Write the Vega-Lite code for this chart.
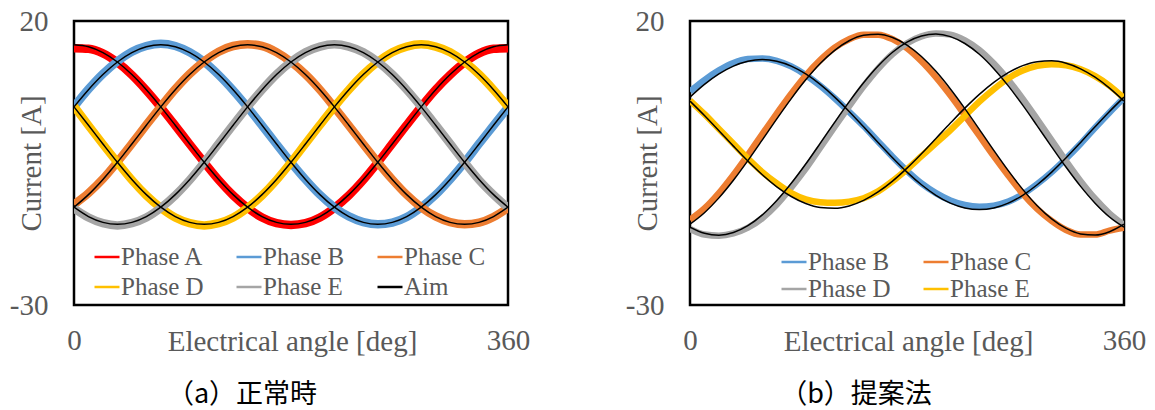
{
"$schema": "https://vega.github.io/schema/vega-lite/v6.json",
"background": "white",
"padding": {"left": 8, "top": 5, "right": 5, "bottom": 0},
"config": {
  "view": {"stroke": "black", "strokeWidth": 2.5},
  "font": "Liberation Serif",
  "axis": {"grid": false, "ticks": false, "domain": false, "labelFont": "Liberation Serif", "labelFontSize": 29, "labelColor": "#595959", "titleFont": "Liberation Serif", "titleFontSize": 29, "titleFontWeight": "normal", "titleColor": "#595959", "labelFlush": false, "labelExpr": "replace(datum.label, '−', '-')"},
  "legend": {"labelFont": "Liberation Serif", "labelFontSize": 25, "labelColor": "#595959", "symbolType": "stroke", "symbolSize": 625, "symbolStrokeWidth": 2.5, "labelOffset": 0, "rowPadding": 5, "title": null}
},
"datasets": {
"a": [
{"p":"Phase A","a":0,"m":15.2,"t":15.8},{"p":"Phase A","a":12,"m":15.1,"t":15.45},{"p":"Phase A","a":24,"m":14.3,"t":14.43},{"p":"Phase A","a":36,"m":12.7,"t":12.78},{"p":"Phase A","a":48,"m":10.5,"t":10.57},{"p":"Phase A","a":60,"m":7.8,"t":7.9},{"p":"Phase A","a":72,"m":4.8,"t":4.88},{"p":"Phase A","a":84,"m":1.6,"t":1.65},{"p":"Phase A","a":96,"m":-1.7,"t":-1.65},{"p":"Phase A","a":108,"m":-4.9,"t":-4.88},{"p":"Phase A","a":120,"m":-8.0,"t":-7.9},{"p":"Phase A","a":132,"m":-10.7,"t":-10.57},{"p":"Phase A","a":144,"m":-12.9,"t":-12.78},{"p":"Phase A","a":156,"m":-14.6,"t":-14.43},{"p":"Phase A","a":168,"m":-15.6,"t":-15.45},{"p":"Phase A","a":180,"m":-15.9,"t":-15.8},{"p":"Phase A","a":192,"m":-15.6,"t":-15.45},{"p":"Phase A","a":204,"m":-14.6,"t":-14.43},{"p":"Phase A","a":216,"m":-12.9,"t":-12.78},{"p":"Phase A","a":228,"m":-10.7,"t":-10.57},{"p":"Phase A","a":240,"m":-8.0,"t":-7.9},{"p":"Phase A","a":252,"m":-4.9,"t":-4.88},{"p":"Phase A","a":264,"m":-1.6,"t":-1.65},{"p":"Phase A","a":276,"m":1.7,"t":1.65},{"p":"Phase A","a":288,"m":4.9,"t":4.88},{"p":"Phase A","a":300,"m":7.9,"t":7.9},{"p":"Phase A","a":312,"m":10.5,"t":10.57},{"p":"Phase A","a":324,"m":12.7,"t":12.78},{"p":"Phase A","a":336,"m":14.3,"t":14.43},{"p":"Phase A","a":348,"m":15.1,"t":15.45},{"p":"Phase A","a":360,"m":15.2,"t":15.8},
{"p":"Phase B","a":0,"m":4.9,"t":4.88},{"p":"Phase B","a":12,"m":8.0,"t":7.9},{"p":"Phase B","a":24,"m":10.7,"t":10.57},{"p":"Phase B","a":36,"m":12.9,"t":12.78},{"p":"Phase B","a":48,"m":14.6,"t":14.43},{"p":"Phase B","a":60,"m":15.6,"t":15.45},{"p":"Phase B","a":72,"m":16.0,"t":15.8},{"p":"Phase B","a":84,"m":15.6,"t":15.45},{"p":"Phase B","a":96,"m":14.5,"t":14.43},{"p":"Phase B","a":108,"m":12.8,"t":12.78},{"p":"Phase B","a":120,"m":10.5,"t":10.57},{"p":"Phase B","a":132,"m":7.8,"t":7.9},{"p":"Phase B","a":144,"m":4.8,"t":4.88},{"p":"Phase B","a":156,"m":1.6,"t":1.65},{"p":"Phase B","a":168,"m":-1.7,"t":-1.65},{"p":"Phase B","a":180,"m":-4.9,"t":-4.88},{"p":"Phase B","a":192,"m":-7.9,"t":-7.9},{"p":"Phase B","a":204,"m":-10.6,"t":-10.57},{"p":"Phase B","a":216,"m":-12.8,"t":-12.78},{"p":"Phase B","a":228,"m":-14.4,"t":-14.43},{"p":"Phase B","a":240,"m":-15.4,"t":-15.45},{"p":"Phase B","a":252,"m":-15.8,"t":-15.8},{"p":"Phase B","a":264,"m":-15.5,"t":-15.45},{"p":"Phase B","a":276,"m":-14.5,"t":-14.43},{"p":"Phase B","a":288,"m":-12.8,"t":-12.78},{"p":"Phase B","a":300,"m":-10.6,"t":-10.57},{"p":"Phase B","a":312,"m":-7.9,"t":-7.9},{"p":"Phase B","a":324,"m":-4.9,"t":-4.88},{"p":"Phase B","a":336,"m":-1.6,"t":-1.65},{"p":"Phase B","a":348,"m":1.6,"t":1.65},{"p":"Phase B","a":360,"m":4.8,"t":4.88},
{"p":"Phase C","a":0,"m":-12.3,"t":-12.78},{"p":"Phase C","a":12,"m":-10.3,"t":-10.57},{"p":"Phase C","a":24,"m":-7.8,"t":-7.9},{"p":"Phase C","a":36,"m":-4.8,"t":-4.88},{"p":"Phase C","a":48,"m":-1.6,"t":-1.65},{"p":"Phase C","a":60,"m":1.7,"t":1.65},{"p":"Phase C","a":72,"m":4.9,"t":4.88},{"p":"Phase C","a":84,"m":8.0,"t":7.9},{"p":"Phase C","a":96,"m":10.7,"t":10.57},{"p":"Phase C","a":108,"m":12.9,"t":12.78},{"p":"Phase C","a":120,"m":14.6,"t":14.43},{"p":"Phase C","a":132,"m":15.6,"t":15.45},{"p":"Phase C","a":144,"m":15.9,"t":15.8},{"p":"Phase C","a":156,"m":15.6,"t":15.45},{"p":"Phase C","a":168,"m":14.5,"t":14.43},{"p":"Phase C","a":180,"m":12.8,"t":12.78},{"p":"Phase C","a":192,"m":10.6,"t":10.57},{"p":"Phase C","a":204,"m":7.9,"t":7.9},{"p":"Phase C","a":216,"m":4.8,"t":4.88},{"p":"Phase C","a":228,"m":1.6,"t":1.65},{"p":"Phase C","a":240,"m":-1.7,"t":-1.65},{"p":"Phase C","a":252,"m":-4.9,"t":-4.88},{"p":"Phase C","a":264,"m":-7.9,"t":-7.9},{"p":"Phase C","a":276,"m":-10.6,"t":-10.57},{"p":"Phase C","a":288,"m":-12.8,"t":-12.78},{"p":"Phase C","a":300,"m":-14.4,"t":-14.43},{"p":"Phase C","a":312,"m":-15.4,"t":-15.45},{"p":"Phase C","a":324,"m":-15.8,"t":-15.8},{"p":"Phase C","a":336,"m":-15.5,"t":-15.45},{"p":"Phase C","a":348,"m":-14.5,"t":-14.43},{"p":"Phase C","a":360,"m":-12.9,"t":-12.78},
{"p":"Phase D","a":0,"m":5.0,"t":4.88},{"p":"Phase D","a":12,"m":1.6,"t":1.65},{"p":"Phase D","a":24,"m":-1.7,"t":-1.65},{"p":"Phase D","a":36,"m":-4.9,"t":-4.88},{"p":"Phase D","a":48,"m":-8.0,"t":-7.9},{"p":"Phase D","a":60,"m":-10.7,"t":-10.57},{"p":"Phase D","a":72,"m":-12.9,"t":-12.78},{"p":"Phase D","a":84,"m":-14.6,"t":-14.43},{"p":"Phase D","a":96,"m":-15.6,"t":-15.45},{"p":"Phase D","a":108,"m":-16.0,"t":-15.8},{"p":"Phase D","a":120,"m":-15.6,"t":-15.45},{"p":"Phase D","a":132,"m":-14.6,"t":-14.43},{"p":"Phase D","a":144,"m":-12.9,"t":-12.78},{"p":"Phase D","a":156,"m":-10.7,"t":-10.57},{"p":"Phase D","a":168,"m":-8.0,"t":-7.9},{"p":"Phase D","a":180,"m":-4.9,"t":-4.88},{"p":"Phase D","a":192,"m":-1.6,"t":-1.65},{"p":"Phase D","a":204,"m":1.7,"t":1.65},{"p":"Phase D","a":216,"m":4.9,"t":4.88},{"p":"Phase D","a":228,"m":7.9,"t":7.9},{"p":"Phase D","a":240,"m":10.6,"t":10.57},{"p":"Phase D","a":252,"m":12.8,"t":12.78},{"p":"Phase D","a":264,"m":14.5,"t":14.43},{"p":"Phase D","a":276,"m":15.5,"t":15.45},{"p":"Phase D","a":288,"m":15.9,"t":15.8},{"p":"Phase D","a":300,"m":15.5,"t":15.45},{"p":"Phase D","a":312,"m":14.5,"t":14.43},{"p":"Phase D","a":324,"m":12.8,"t":12.78},{"p":"Phase D","a":336,"m":10.6,"t":10.57},{"p":"Phase D","a":348,"m":7.9,"t":7.9},{"p":"Phase D","a":360,"m":4.9,"t":4.88},
{"p":"Phase E","a":0,"m":-13.0,"t":-12.78},{"p":"Phase E","a":12,"m":-14.6,"t":-14.43},{"p":"Phase E","a":24,"m":-15.6,"t":-15.45},{"p":"Phase E","a":36,"m":-16.0,"t":-15.8},{"p":"Phase E","a":48,"m":-15.6,"t":-15.45},{"p":"Phase E","a":60,"m":-14.6,"t":-14.43},{"p":"Phase E","a":72,"m":-12.9,"t":-12.78},{"p":"Phase E","a":84,"m":-10.7,"t":-10.57},{"p":"Phase E","a":96,"m":-8.0,"t":-7.9},{"p":"Phase E","a":108,"m":-4.9,"t":-4.88},{"p":"Phase E","a":120,"m":-1.6,"t":-1.65},{"p":"Phase E","a":132,"m":1.7,"t":1.65},{"p":"Phase E","a":144,"m":4.9,"t":4.88},{"p":"Phase E","a":156,"m":7.9,"t":7.9},{"p":"Phase E","a":168,"m":10.6,"t":10.57},{"p":"Phase E","a":180,"m":12.8,"t":12.78},{"p":"Phase E","a":192,"m":14.5,"t":14.43},{"p":"Phase E","a":204,"m":15.5,"t":15.45},{"p":"Phase E","a":216,"m":15.9,"t":15.8},{"p":"Phase E","a":228,"m":15.5,"t":15.45},{"p":"Phase E","a":240,"m":14.5,"t":14.43},{"p":"Phase E","a":252,"m":12.8,"t":12.78},{"p":"Phase E","a":264,"m":10.6,"t":10.57},{"p":"Phase E","a":276,"m":7.9,"t":7.9},{"p":"Phase E","a":288,"m":4.9,"t":4.88},{"p":"Phase E","a":300,"m":1.7,"t":1.65},{"p":"Phase E","a":312,"m":-1.6,"t":-1.65},{"p":"Phase E","a":324,"m":-4.9,"t":-4.88},{"p":"Phase E","a":336,"m":-8.0,"t":-7.9},{"p":"Phase E","a":348,"m":-10.6,"t":-10.57},{"p":"Phase E","a":360,"m":-12.9,"t":-12.78}
],
"b": [
{"p":"Phase B","a":0,"m":7.6,"t":6.6},{"p":"Phase B","a":12,"m":9.6,"t":8.83},{"p":"Phase B","a":24,"m":11.3,"t":10.68},{"p":"Phase B","a":36,"m":12.6,"t":12.06},{"p":"Phase B","a":48,"m":13.3,"t":12.91},{"p":"Phase B","a":60,"m":13.4,"t":13.2},{"p":"Phase B","a":72,"m":13.0,"t":12.91},{"p":"Phase B","a":84,"m":12.0,"t":12.06},{"p":"Phase B","a":96,"m":10.5,"t":10.68},{"p":"Phase B","a":108,"m":8.6,"t":8.83},{"p":"Phase B","a":120,"m":6.4,"t":6.6},{"p":"Phase B","a":132,"m":4.0,"t":4.08},{"p":"Phase B","a":144,"m":1.5,"t":1.38},{"p":"Phase B","a":156,"m":-1.2,"t":-1.38},{"p":"Phase B","a":168,"m":-3.9,"t":-4.08},{"p":"Phase B","a":180,"m":-6.4,"t":-6.6},{"p":"Phase B","a":192,"m":-8.6,"t":-8.83},{"p":"Phase B","a":204,"m":-10.3,"t":-10.68},{"p":"Phase B","a":216,"m":-11.6,"t":-12.06},{"p":"Phase B","a":228,"m":-12.4,"t":-12.91},{"p":"Phase B","a":240,"m":-12.7,"t":-13.2},{"p":"Phase B","a":252,"m":-12.5,"t":-12.91},{"p":"Phase B","a":264,"m":-11.8,"t":-12.06},{"p":"Phase B","a":276,"m":-10.5,"t":-10.68},{"p":"Phase B","a":288,"m":-8.7,"t":-8.83},{"p":"Phase B","a":300,"m":-6.6,"t":-6.6},{"p":"Phase B","a":312,"m":-4.2,"t":-4.08},{"p":"Phase B","a":324,"m":-1.6,"t":-1.38},{"p":"Phase B","a":336,"m":1.2,"t":1.38},{"p":"Phase B","a":348,"m":3.9,"t":4.08},{"p":"Phase B","a":360,"m":6.5,"t":6.6},
{"p":"Phase C","a":0,"m":-15.0,"t":-15.77},{"p":"Phase C","a":12,"m":-13.0,"t":-13.75},{"p":"Phase C","a":24,"m":-10.3,"t":-11.14},{"p":"Phase C","a":36,"m":-7.1,"t":-8.04},{"p":"Phase C","a":48,"m":-3.6,"t":-4.58},{"p":"Phase C","a":60,"m":0.1,"t":-0.93},{"p":"Phase C","a":72,"m":3.7,"t":2.77},{"p":"Phase C","a":84,"m":7.2,"t":6.34},{"p":"Phase C","a":96,"m":10.4,"t":9.64},{"p":"Phase C","a":108,"m":13.1,"t":12.52},{"p":"Phase C","a":120,"m":15.3,"t":14.84},{"p":"Phase C","a":132,"m":16.8,"t":16.52},{"p":"Phase C","a":144,"m":17.6,"t":17.48},{"p":"Phase C","a":156,"m":17.6,"t":17.68},{"p":"Phase C","a":168,"m":16.8,"t":17.1},{"p":"Phase C","a":180,"m":15.2,"t":15.77},{"p":"Phase C","a":192,"m":12.9,"t":13.75},{"p":"Phase C","a":204,"m":10.1,"t":11.14},{"p":"Phase C","a":216,"m":6.9,"t":8.04},{"p":"Phase C","a":228,"m":3.4,"t":4.58},{"p":"Phase C","a":240,"m":-0.2,"t":0.93},{"p":"Phase C","a":252,"m":-3.8,"t":-2.77},{"p":"Phase C","a":264,"m":-7.2,"t":-6.34},{"p":"Phase C","a":276,"m":-10.4,"t":-9.64},{"p":"Phase C","a":288,"m":-13.1,"t":-12.52},{"p":"Phase C","a":300,"m":-15.2,"t":-14.84},{"p":"Phase C","a":312,"m":-16.8,"t":-16.52},{"p":"Phase C","a":324,"m":-17.6,"t":-17.48},{"p":"Phase C","a":336,"m":-17.6,"t":-17.68},{"p":"Phase C","a":348,"m":-16.9,"t":-17.1},{"p":"Phase C","a":360,"m":-16.4,"t":-15.77},
{"p":"Phase D","a":0,"m":-16.6,"t":-16.29},{"p":"Phase D","a":12,"m":-17.6,"t":-17.37},{"p":"Phase D","a":24,"m":-17.8,"t":-17.7},{"p":"Phase D","a":36,"m":-17.4,"t":-17.25},{"p":"Phase D","a":48,"m":-16.4,"t":-16.04},{"p":"Phase D","a":60,"m":-14.7,"t":-14.14},{"p":"Phase D","a":72,"m":-12.3,"t":-11.61},{"p":"Phase D","a":84,"m":-9.3,"t":-8.58},{"p":"Phase D","a":96,"m":-6.0,"t":-5.18},{"p":"Phase D","a":108,"m":-2.3,"t":-1.54},{"p":"Phase D","a":120,"m":1.4,"t":2.16},{"p":"Phase D","a":132,"m":5.0,"t":5.76},{"p":"Phase D","a":144,"m":8.5,"t":9.12},{"p":"Phase D","a":156,"m":11.6,"t":12.07},{"p":"Phase D","a":168,"m":14.2,"t":14.5},{"p":"Phase D","a":180,"m":16.1,"t":16.29},{"p":"Phase D","a":192,"m":17.3,"t":17.37},{"p":"Phase D","a":204,"m":17.8,"t":17.7},{"p":"Phase D","a":216,"m":17.6,"t":17.25},{"p":"Phase D","a":228,"m":16.6,"t":16.04},{"p":"Phase D","a":240,"m":14.9,"t":14.14},{"p":"Phase D","a":252,"m":12.5,"t":11.61},{"p":"Phase D","a":264,"m":9.6,"t":8.58},{"p":"Phase D","a":276,"m":6.3,"t":5.18},{"p":"Phase D","a":288,"m":2.7,"t":1.54},{"p":"Phase D","a":300,"m":-1.0,"t":-2.16},{"p":"Phase D","a":312,"m":-4.7,"t":-5.76},{"p":"Phase D","a":324,"m":-8.2,"t":-9.12},{"p":"Phase D","a":336,"m":-11.3,"t":-12.07},{"p":"Phase D","a":348,"m":-13.9,"t":-14.5},{"p":"Phase D","a":360,"m":-15.9,"t":-16.29},
{"p":"Phase E","a":0,"m":6.0,"t":5.9},{"p":"Phase E","a":12,"m":3.6,"t":3.36},{"p":"Phase E","a":24,"m":1.0,"t":0.68},{"p":"Phase E","a":36,"m":-1.6,"t":-2.03},{"p":"Phase E","a":48,"m":-4.2,"t":-4.66},{"p":"Phase E","a":60,"m":-6.6,"t":-7.08},{"p":"Phase E","a":72,"m":-8.6,"t":-9.19},{"p":"Phase E","a":84,"m":-10.3,"t":-10.9},{"p":"Phase E","a":96,"m":-11.4,"t":-12.14},{"p":"Phase E","a":108,"m":-11.9,"t":-12.84},{"p":"Phase E","a":120,"m":-12.0,"t":-12.98},{"p":"Phase E","a":132,"m":-11.8,"t":-12.56},{"p":"Phase E","a":144,"m":-11.2,"t":-11.58},{"p":"Phase E","a":156,"m":-10.0,"t":-10.1},{"p":"Phase E","a":168,"m":-8.2,"t":-8.18},{"p":"Phase E","a":180,"m":-6.1,"t":-5.9},{"p":"Phase E","a":192,"m":-3.8,"t":-3.36},{"p":"Phase E","a":204,"m":-1.5,"t":-0.68},{"p":"Phase E","a":216,"m":0.8,"t":2.03},{"p":"Phase E","a":228,"m":3.3,"t":4.66},{"p":"Phase E","a":240,"m":5.8,"t":7.08},{"p":"Phase E","a":252,"m":8.0,"t":9.19},{"p":"Phase E","a":264,"m":9.9,"t":10.9},{"p":"Phase E","a":276,"m":11.3,"t":12.14},{"p":"Phase E","a":288,"m":12.1,"t":12.84},{"p":"Phase E","a":300,"m":12.4,"t":12.98},{"p":"Phase E","a":312,"m":12.2,"t":12.56},{"p":"Phase E","a":324,"m":11.5,"t":11.58},{"p":"Phase E","a":336,"m":10.3,"t":10.1},{"p":"Phase E","a":348,"m":8.6,"t":8.18},{"p":"Phase E","a":360,"m":6.4,"t":5.9}
]
},
"spacing": 93,
"resolve": {"scale": {"color": "independent"}},
"hconcat": [
{
  "width": 434, "height": 284,
  "data": {"name": "a"},
  "title": {"text": "（a）正常時", "orient": "bottom", "font": "Noto Sans CJK JP", "fontSize": 27, "fontWeight": "normal", "color": "black", "dx": -49, "offset": 26},
  "encoding": {
    "x": {"field": "a", "type": "quantitative", "scale": {"domain": [0, 360], "nice": false}, "axis": {"values": [0, 360], "labelPadding": 21, "title": "Electrical angle [deg]", "titleX": 218, "titleY": 36, "titleBaseline": "middle", "titleAlign": "center"}}
  },
  "layer": [
    {"mark": {"type": "line", "strokeWidth": 8.5, "interpolate": "monotone", "clip": true},
     "encoding": {
       "y": {"field": "m", "type": "quantitative", "scale": {"domain": [-30, 20], "nice": false}, "axis": {"values": [-30, 20], "labelPadding": 26, "title": "Current [A]", "titleX": -43, "titleY": 142, "titleAngle": 270, "titleBaseline": "middle", "titleAlign": "center"}},
       "color": {"field": "p", "type": "nominal", "scale": {"domain": ["Phase A", "Phase B", "Phase C", "Phase D", "Phase E", "Aim"], "range": ["#FF0000", "#5B9BD5", "#ED7D31", "#FFC000", "#A5A5A5", "#000000"]},
         "legend": {"orient": "none", "legendX": 19, "legendY": 222, "columns": 3, "columnPadding": 27, "rowPadding": 3, "direction": "horizontal", "labelFont": "Liberation Serif", "labelFontSize": 25, "labelColor": "#595959"}}
     }},
    {"mark": {"type": "line", "strokeWidth": 1.5, "color": "black", "interpolate": "monotone", "clip": true},
     "encoding": {
       "y": {"field": "t", "type": "quantitative", "scale": {"domain": [-30, 20], "nice": false}, "axis": {"values": [-30, 20], "labelPadding": 26, "title": "Current [A]", "titleX": -43, "titleY": 142, "titleAngle": 270, "titleBaseline": "middle", "titleAlign": "center"}},
       "detail": {"field": "p", "type": "nominal"}
     }}
  ]
},
{
  "width": 434, "height": 284,
  "data": {"name": "b"},
  "title": {"text": "（b）提案法", "orient": "bottom", "font": "Noto Sans CJK JP", "fontSize": 27, "fontWeight": "normal", "color": "black", "dx": -51, "offset": 26},
  "encoding": {
    "x": {"field": "a", "type": "quantitative", "scale": {"domain": [0, 360], "nice": false}, "axis": {"values": [0, 360], "labelPadding": 21, "title": "Electrical angle [deg]", "titleX": 218, "titleY": 36, "titleBaseline": "middle", "titleAlign": "center"}}
  },
  "layer": [
    {"mark": {"type": "line", "strokeWidth": 6.5, "interpolate": "monotone", "clip": true},
     "encoding": {
       "y": {"field": "m", "type": "quantitative", "scale": {"domain": [-30, 20], "nice": false}, "axis": {"values": [-30, 20], "labelPadding": 26, "title": "Current [A]", "titleX": -43, "titleY": 142, "titleAngle": 270, "titleBaseline": "middle", "titleAlign": "center"}},
       "color": {"field": "p", "type": "nominal", "scale": {"domain": ["Phase B", "Phase C", "Phase D", "Phase E"], "range": ["#5B9BD5", "#ED7D31", "#A5A5A5", "#FFC000"]},
         "legend": {"orient": "none", "legendX": 90, "legendY": 227, "columns": 2, "columnPadding": 27, "rowPadding": 0, "direction": "horizontal", "labelFont": "Liberation Serif", "labelFontSize": 25, "labelColor": "#595959"}}
     }},
    {"mark": {"type": "line", "strokeWidth": 1.5, "color": "black", "interpolate": "monotone", "clip": true},
     "encoding": {
       "y": {"field": "t", "type": "quantitative", "scale": {"domain": [-30, 20], "nice": false}, "axis": {"values": [-30, 20], "labelPadding": 26, "title": "Current [A]", "titleX": -43, "titleY": 142, "titleAngle": 270, "titleBaseline": "middle", "titleAlign": "center"}},
       "detail": {"field": "p", "type": "nominal"}
     }}
  ]
}
]
}
